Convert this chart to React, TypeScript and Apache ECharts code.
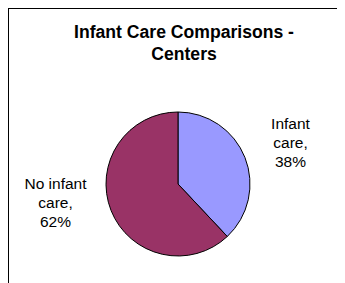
import React, { useEffect, useRef } from "react";
import * as echarts from "echarts";

const categories = ["Infant care", "No infant care"];
const values = [38, 62];
const colors = ["#9999FF", "#993366"];
const titleLines = ["Infant Care Comparisons -", "Centers"];

const FONT = "Arial, 'Liberation Sans', Helvetica, sans-serif";
const labelSpots = [
  [281.5, 133],
  [46.5, 193.5],
];

export default function App() {
  const ref = useRef<HTMLDivElement>(null);
  useEffect(() => {
    document.documentElement.style.overflow = "hidden";
    document.body.style.overflow = "hidden";
    const chart = echarts.init(ref.current!, null, { renderer: "svg" });
    chart.setOption({
      animation: false,
      backgroundColor: "#ffffff",
      graphic: [
        {
          type: "text",
          x: 175,
          y: 12,
          style: {
            text: titleLines.join("\n"),
            fontWeight: "bold",
            fontSize: 17.6,
            fontFamily: FONT,
            lineHeight: 22,
            textAlign: "center",
            textVerticalAlign: "top",
            fill: "#000000",
          },
        },
      ],
      series: [
        {
          type: "pie",
          center: [169, 175],
          radius: 72,
          startAngle: 90,
          clockwise: true,
          data: categories.map((c, i) => ({
            name: c,
            value: values[i],
            itemStyle: { color: colors[i] },
          })),
          itemStyle: { borderColor: "#000000", borderWidth: 1 },
          emphasis: { disabled: true },
          labelLine: { show: false },
          label: {
            show: true,
            position: "outside",
            color: "#000000",
            fontFamily: FONT,
            fontSize: 15.5,
            lineHeight: 19,
            align: "center",
            overflow: "none",
            width: 120,
            formatter: (p: any) => {
              const name: string = p.name;
              const k = name.lastIndexOf(" ");
              return `${name.slice(0, k)}\n${name.slice(k + 1)},\n${Math.round(p.percent)}%`;
            },
          },
          labelLayout: (p: any) => ({
            x: labelSpots[p.dataIndex][0],
            y: labelSpots[p.dataIndex][1],
            align: "center",
            verticalAlign: "middle",
          }),
        },
      ],
    });
    return () => chart.dispose();
  }, []);
  return (
    <div
      style={{
        width: 336,
        height: 274,
        borderTop: "1px solid #000",
        borderLeft: "1px solid #000",
      }}
    >
      <div ref={ref} style={{ width: 336, height: 274 }} />
    </div>
  );
}
